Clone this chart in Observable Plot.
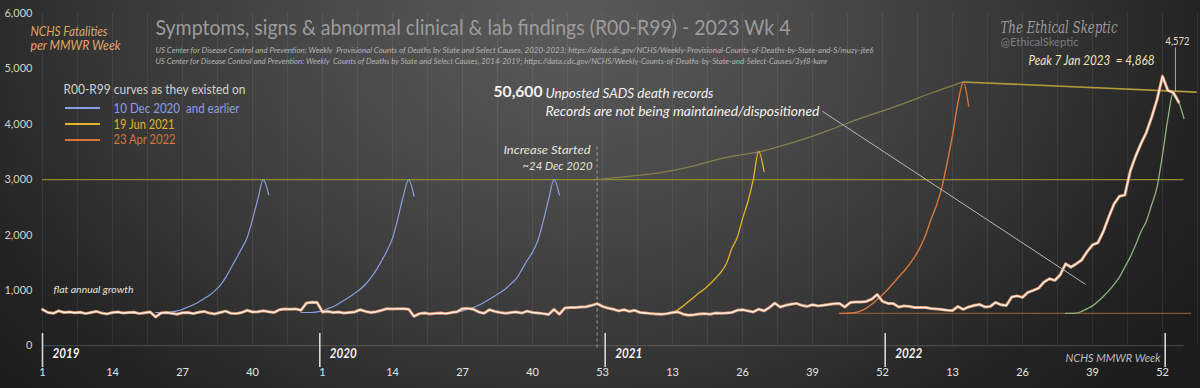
<!DOCTYPE html>
<html><head><meta charset="utf-8">
<script src="https://cdn.jsdelivr.net/npm/d3@7"></script>
<script src="https://cdn.jsdelivr.net/npm/@observablehq/plot@0.6"></script>
<style>
html,body{margin:0;padding:0;background:#1c1c1c;}
#chart{position:relative;width:1200px;height:388px;overflow:hidden;
 background: radial-gradient(ellipse 62% 140% at 47% 5%, #5a5a5a 0%, #4b4b4b 30%, #383838 60%, #242424 85%, #1d1d1d 100%);}
.sw{position:absolute;left:65px;width:35px;height:1.4px;}
</style></head><body><div id="chart"></div>
<script>
// ---- data (week index 0 = 2019 wk 1) ----
const mainValues = [
 655,600,585,630,600,610,595,605,580,600, 620,590,575,600,610,590,600,605,580,595,
 610,520,590,600,585,570,595,600,580,605, 620,590,575,600,625,585,580,600,640,610,
 615,630,615,600,650,665,660,665,640,770, 785,780,
 610,620,600,610,590,600,610,650,620,600, 615,640,670,665,670,668,660,530,580,590,
 575,585,590,580,600,615,670,675,660,610, 585,650,620,600,585,600,610,590,625,600,
 590,580,565,655,570,680,690,690,700,705, 730,760,710,
 680,660,630,650,620,640,600,590,580,575, 570,580,600,610,570,550,560,575,580,570,
 590,585,590,600,640,650,630,610,660,630, 690,770,700,730,750,765,730,710,740,720,
 730,745,760,765,700,780,790,790,800,840, 925,
 800,764,764,700,720,710,691,691,690,673, 665,655,640,636,709,655,700,727,745,700,
 710,782,740,727,880,900,873,964,1000,1040, 1150,1210,1180,1280,1480,1420,1480,1550,1700,1820,
 1860,2060,2320,2560,2700,2720,3150,3420,3650,3850, 4130,4450,
 4868,4610,4572,4400
];
const blue1Start = 21;
const blue1Values = [600,600,600,610,630,660,700,740,790,850,910,990,1090,1230,1400,1580,1760,1950,2280,2650,3000,2730];
const blue2Start = 48;
const blue2Values = [600,600,600,610,630,670,710,760,820,880,950,1020,1110,1230,1370,1540,1720,1940,2300,2700,3000,2700];
const blue3Start = 75;
const blue3Values = [600,600,610,630,660,690,730,780,840,900,960,1030,1120,1210,1370,1540,1690,1900,2250,2650,3000,2720];
const yellowStart = 114;
const yellowValues = [570,575,585,600,650,720,800,880,960,1030,1120,1220,1330,1480,1750,1950,2290,2600,3000,3510,3150];
const orangeStart = 148;
const orangeValues = [585,585,590,600,630,680,750,830,920,1020,1130,1240,1350,1470,1610,1780,2000,2280,2530,2850,3300,3800,4380,4760,4330];
const greenStart = 190;
const greenValues = [585,585,588,620,670,720,800,890,990,1110,1240,1420,1600,1820,2060,2250,2550,2870,3450,4100,4572,4400,4100];
const orangeBaseWeeks = [148, 213.2];
const orangeBaseValues = [585, 585];
const increaseWeeks = [103, 109, 115, 121, 127, 133.5, 140, 146, 152, 159, 165, 171];
const increaseValues = [3000, 3060, 3130, 3250, 3400, 3510, 3690, 3890, 4110, 4340, 4560, 4764];
const flatWeeks = [171, 214.2];
const flatValues = [4764, 4580];
const tickWeeks = [0,13,26,39,52,65,78,91,104,117,130,143,156,169,182,195,208];
const tickLabels = ["1","14","27","40","1","14","27","40","53","13","26","39","52","13","26","39","52"];
const yearMarkers = [0, 51.5, 104.5, 156.5, 208.5];
const yearLabels = ["2019","2020","2021","2022"];
const yTicks = [0,1000,2000,3000,4000,5000,6000];

// ---- build rows ----
const rows = (start, vals) => vals.map((v, k) => ({week: start + k, value: v}));
const pairs = (ws, vs) => ws.map((w, k) => ({week: w, value: vs[k]}));
const main = rows(0, mainValues);
const gridWeeks = d3.range(0, 215, 6.5);

const FONT = "Lato, 'Open Sans', sans-serif";
const ML = 42, MT = 13;
function label(text, px, cy, o = {}) {
  return Plot.text([text], {text: d => d, frameAnchor: "top-left", dx: px - ML, dy: cy - MT,
    textAnchor: "start", lineAnchor: "middle", fontFamily: FONT, ...o});
}

const plot = Plot.plot({
  width: 1200, height: 388,
  marginTop: MT, marginLeft: ML, marginRight: 3, marginBottom: 4,
  x: {domain: [0, 214.5], axis: null},
  y: {domain: [-700, 6000], ticks: yTicks, tickFormat: d3.format(","), tickSize: 0, tickPadding: 10, label: null},
  style: {background: "transparent", color: "#d6cfc6", fontSize: "11px", fontFamily: FONT},
  marks: [
    Plot.ruleX(gridWeeks, {y1: 0, y2: 6000, stroke: "#ffffff", strokeOpacity: 0.07}),
    Plot.ruleY([0], {x1: 0, x2: 212, stroke: "#8a8a8a", strokeOpacity: 0.45}),
    Plot.ruleY([3000], {x1: 0, x2: 212, stroke: "#8e8c2c", strokeWidth: 1.3}),
    Plot.ruleX([103], {y1: -40, y2: 3650, stroke: "#c8c8c8", strokeOpacity: 0.7, strokeDasharray: "3,3"}),
    Plot.line(pairs(increaseWeeks, increaseValues), {x: "week", y: "value", curve: "catmull-rom", stroke: "#85814a", strokeWidth: 1.3}),
    Plot.line(pairs(flatWeeks, flatValues), {x: "week", y: "value", stroke: "#b39a38", strokeWidth: 1.6}),
    Plot.line(pairs(orangeBaseWeeks, orangeBaseValues), {x: "week", y: "value", stroke: "#8a5533", strokeWidth: 1.3}),
    Plot.line(rows(blue1Start, blue1Values), {x: "week", y: "value", curve: "monotone-x", stroke: "#8c9ee0", strokeWidth: 1.2}),
    Plot.line(rows(blue2Start, blue2Values), {x: "week", y: "value", curve: "monotone-x", stroke: "#8c9ee0", strokeWidth: 1.2}),
    Plot.line(rows(blue3Start, blue3Values), {x: "week", y: "value", curve: "monotone-x", stroke: "#8c9ee0", strokeWidth: 1.2}),
    Plot.line(rows(yellowStart, yellowValues), {x: "week", y: "value", curve: "monotone-x", stroke: "#e0b22a", strokeWidth: 1.3}),
    Plot.line(rows(orangeStart, orangeValues), {x: "week", y: "value", curve: "monotone-x", stroke: "#d8773c", strokeWidth: 1.4}),
    Plot.line(rows(greenStart, greenValues), {x: "week", y: "value", curve: "monotone-x", stroke: "#8fb47e", strokeWidth: 1.3}),
    Plot.line(main, {x: "week", y: "value", stroke: "#e89c72", strokeWidth: 3, strokeOpacity: 0.9}),
    Plot.line(main, {x: "week", y: "value", stroke: "#fff1e6", strokeWidth: 1.4}),
    Plot.link([{a: 144.8, b: 4236, c: 193.7, d: 1109}], {x1: "a", y1: "b", x2: "c", y2: "d", stroke: "#b8b8b8", strokeWidth: 1}),
    Plot.ruleX([210.4], {y1: 4580, y2: 5380, stroke: "#a8a8a8", strokeWidth: 1}),
    Plot.ruleX(yearMarkers, {y1: 220, y2: -395, stroke: "#d8d8d8", strokeWidth: 1.6}),
    Plot.text(yearLabels.map((t, k) => ({week: yearMarkers[k], t})), {x: "week", text: "t", frameAnchor: "bottom", dy: -27, dx: 10,
      textAnchor: "start", fontFamily: FONT, fontSize: 13, fontWeight: "bold", fontStyle: "italic", fill: "#f4f4f4"}),
    Plot.text(tickWeeks.map((w, k) => ({week: w, t: tickLabels[k]})), {x: "week", text: "t", frameAnchor: "bottom", dy: -9,
      fontFamily: FONT, fontSize: 11, fill: "#e4e4e4"}),
    label("Symptoms, signs & abnormal clinical & lab findings (R00-R99) - 2023 Wk 4", 155, 28, {fontSize: 21, fill: "#9c9c9c"}),
    label("US Center for Disease Control and Prevention: Weekly  Provisional Counts of Deaths by State and Select Causes, 2020-2023; https://data.cdc.gov/NCHS/Weekly-Provisional-Counts-of-Deaths-by-State-and-S/muzy-jte6", 155, 50, {fontSize: 7.5, fontStyle: "italic", fill: "#b4b4b4"}),
    label("US Center for Disease Control and Prevention: Weekly  Counts of Deaths by State and Select Causes, 2014-2019; https://data.cdc.gov/NCHS/Weekly-Counts-of-Deaths-by-State-and-Select-Causes/3yf8-kanr", 155, 61, {fontSize: 7.5, fontStyle: "italic", fill: "#b4b4b4"}),
    label("NCHS Fatalities", 30, 31, {fontSize: 13, fontStyle: "italic", fill: "#dfa766"}),
    label("per MMWR Week", 30, 45, {fontSize: 13, fontStyle: "italic", fill: "#dfa766"}),
    label("R00-R99 curves as they existed on", 63, 89, {fontSize: 13, fill: "#d0d0d0"}),
    label("10 Dec 2020  and earlier", 113, 108, {fontSize: 13, fill: "#8c9ee0"}),
    label("19 Jun 2021", 113, 124, {fontSize: 13, fill: "#e2b228"}),
    label("23 Apr 2022", 113, 139, {fontSize: 13, fill: "#d2743a"}),
    label("50,600", 493, 92, {fontSize: 15, fontWeight: "bold", fill: "#f2f2f2"}),
    label("Unposted SADS death records", 545, 93, {fontSize: 13.5, fontStyle: "italic", fill: "#f0f0f0"}),
    label("Records are not being maintained/dispositioned", 545, 111, {fontSize: 13.5, fontStyle: "italic", fill: "#f0f0f0"}),
    label("Increase Started", 503, 150, {fontSize: 12, fontStyle: "italic", fill: "#e6e4d8"}),
    label("~24 Dec 2020", 522, 166, {fontSize: 12, fontStyle: "italic", fill: "#e6e4d8"}),
    label("The Ethical Skeptic", 1000, 27, {fontSize: 17, fontStyle: "italic", fontFamily: "'DejaVu Serif', serif", fill: "#9a9a9a"}),
    label("@EthicalSkeptic", 1000, 42, {fontSize: 11, fill: "#7e7e7e"}),
    label("Peak 7 Jan 2023  = 4,868", 1028, 60, {fontSize: 13, fontStyle: "italic", fill: "#f3e6b5"}),
    label("4,572", 1165, 41, {fontSize: 11, fill: "#eed7c2"}),
    label("flat annual growth", 53, 289, {fontSize: 10, fontStyle: "italic", fill: "#e8e0d8"}),
    label("NCHS MMWR Week", 1065, 358, {fontSize: 11, fontStyle: "italic", fill: "#bdbdbd"})
  ]
});

// fit label widths to the reference
const fit = new Map([
  ["Symptoms, signs & abnormal clinical & lab findings (R00-R99) - 2023 Wk 4", 635],
  ["NCHS Fatalities", 77], ["per MMWR Week", 90],
  ["R00-R99 curves as they existed on", 182], ["10 Dec 2020  and earlier", 126],
  ["19 Jun 2021", 61], ["23 Apr 2022", 62], ["50,600", 49],
  ["Unposted SADS death records", 168], ["Records are not being maintained/dispositioned", 274],
  ["Increase Started", 87], ["~24 Dec 2020", 70], ["The Ethical Skeptic", 117], ["@EthicalSkeptic", 78],
  ["Peak 7 Jan 2023  = 4,868", 126], ["4,572", 24], ["flat annual growth", 80], ["NCHS MMWR Week", 95],
  ["2019", 27], ["2020", 27], ["2021", 27], ["2022", 27]
]);
plot.querySelectorAll("text").forEach(t => {
  const s = t.textContent;
  let w = fit.get(s);
  if (s.startsWith("US Center") && s.includes("Provisional")) w = 718;
  else if (s.startsWith("US Center")) w = 672;
  if (w) { t.setAttribute("textLength", w); t.setAttribute("lengthAdjust", "spacingAndGlyphs"); }
  t.style.whiteSpace = "pre";
});
plot.setAttribute("style", (plot.getAttribute("style") || "") + ";position:absolute;left:0;top:0;");
const chart = document.getElementById("chart");
chart.appendChild(plot);

// legend swatches
[["#8c9ee0", 108], ["#e0b22a", 124], ["#d8773c", 140]].forEach(([c, y]) => {
  const d = document.createElement("div");
  d.className = "sw"; d.style.top = (y - 0.7) + "px"; d.style.background = c;
  chart.appendChild(d);
});
</script></body></html>
